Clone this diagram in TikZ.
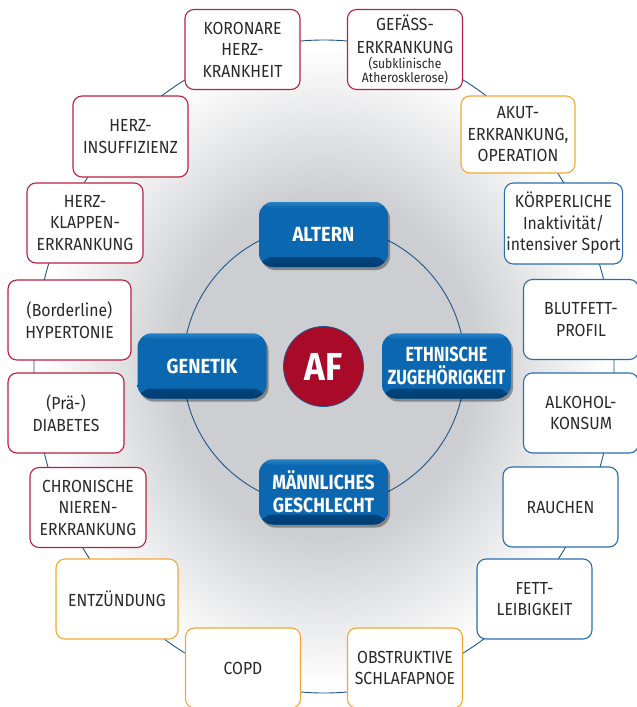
\documentclass[tikz,border=0pt]{standalone}
\usepackage{fontspec}
\setmainfont{Fira Sans}[FakeStretch=0.9]
\newfontfamily\blufont{Fira Sans}[FakeStretch=0.9]
\usetikzlibrary{shadows}
\definecolor{redc}{RGB}{186,32,64}
\definecolor{orc}{RGB}{246,166,50}
\definecolor{bluc}{RGB}{40,110,175}
\definecolor{ringc}{RGB}{30,85,140}
\definecolor{bfill}{RGB}{11,103,176}
\definecolor{bdark}{RGB}{0,62,115}
\definecolor{blight}{RGB}{40,130,200}
\definecolor{afred}{RGB}{168,10,40}
\definecolor{txt}{RGB}{40,40,40}
\definecolor{bggray}{RGB}{205,206,209}
\pgfdeclareradialshading{bgshade}{\pgfpoint{0bp}{0bp}}{color(0bp)=(bggray); color(13bp)=(bggray); color(24.5bp)=(white); color(50bp)=(white)}
\newcommand\smallf{\fontsize{13.5}{14}\selectfont}
\tikzset{
  obox/.style={draw, rounded corners=9pt, fill=white, line width=1.1pt, align=center,
    minimum width=115pt, minimum height=80pt, inner sep=2pt, text=txt,
    font=\fontsize{17.5}{21.5}\selectfont},
  rbox/.style={obox, draw=redc},
  orbox/.style={obox, draw=orc},
  bbox/.style={obox, draw=bluc},
  bluebox/.style={rounded corners=14pt, fill=bfill, minimum width=129pt, minimum height=65pt,
    text=white, align=center, inner sep=2pt,
    font=\blufont\bfseries\fontsize{20.5}{23}\selectfont,
    drop shadow={shadow xshift=2pt, shadow yshift=-3pt, opacity=0.35, fill=black},
    path picture={
      \shade[top color=bfill, bottom color=bdark]
        ([yshift=10pt]path picture bounding box.south west) rectangle (path picture bounding box.south east);
      \shade[top color=blight, bottom color=bfill]
        (path picture bounding box.north west) rectangle ([yshift=-6pt]path picture bounding box.north east);
    }},
  ringline/.style={draw=ringc, line width=0.9pt}
}
\begin{document}
\begin{tikzpicture}[x=1pt,y=-1pt]
\useasboundingbox (0,0) rectangle (637,707);
% background gradient and rings
\shade[shading=bgshade] (324,366.5) ellipse [x radius=290pt, y radius=326.5pt];
\draw[ringline] (324,366.5) ellipse [x radius=290pt, y radius=326.5pt];
\draw[ringline] (324,366) circle [radius=141pt];

% outer boxes
\node[rbox] (koronar) at (242.5,49.5) {KORONARE\\HERZ-\\KRANKHEIT};
\node[rbox] (gefaess) at (405,49.5) {GEFÄSS-\\[2pt]ERKRANKUNG\\[-7pt]{\smallf (subklinische}\\[-7.5pt]{\smallf Atherosklerose)}};
\node[orbox, minimum height=77pt, minimum width=114pt] (akut) at (518,134.5) {AKUT-\\ERKRANKUNG,\\OPERATION};
\node[bbox, minimum height=81pt] (koerper) at (563.5,223.5) {KÖRPERLICHE\\Inaktivität/\\intensiver Sport};
\node[bbox] (blutfett) at (581,319.5) {BLUTFETT-\\PROFIL};
\node[bbox] (alkohol) at (581,413) {ALKOHOL-\\KONSUM};
\node[bbox] (rauchen) at (560.5,507) {RAUCHEN};
\node[bbox] (fett) at (534.5,599) {FETT-\\LEIBIGKEIT};
\node[orbox] (schlaf) at (405,668) {OBSTRUKTIVE\\SCHLAFAPNOE};
\node[orbox] (copd) at (243,668) {COPD};
\node[orbox, minimum width=122pt] (entz) at (117,599) {ENTZÜNDUNG};
\node[rbox, minimum width=116pt] (niere) at (88,507.5) {CHRONISCHE\\NIEREN-\\ERKRANKUNG};
\node[rbox, minimum width=116pt] (diab) at (66,413) {(Prä-)\\DIABETES};
\node[rbox, minimum width=123pt] (hyper) at (69.5,320) {(Borderline)\\HYPERTONIE};
\node[rbox, minimum width=116pt] (klappe) at (85,223) {HERZ-\\KLAPPEN-\\ERKRANKUNG};
\node[rbox, minimum height=81pt] (insuff) at (130.5,136.5) {HERZ-\\INSUFFIZIENZ};

% inner blue boxes
\node[bluebox] (altern) at (323.5,234.5) {ALTERN};
\node[bluebox] (genetik) at (202,366) {GENETIK};
\node[bluebox] (ethn) at (446.5,366) {\scalebox{0.88}[1]{ETHNISCHE}\\\scalebox{0.88}[1]{ZUGEHÖRIGKEIT}};
\node[bluebox] (mann) at (323.5,492) {\scalebox{0.95}[1]{MÄNNLICHES}\\\scalebox{0.95}[1]{GESCHLECHT}};

% centre
\node[circle, fill=afred, draw=ringc, line width=0.8pt, minimum size=80pt, inner sep=0pt,
  text=white, font=\bfseries\fontsize{39}{39}\selectfont] (af) at (323.5,366.5) {AF};
\end{tikzpicture}
\end{document}
